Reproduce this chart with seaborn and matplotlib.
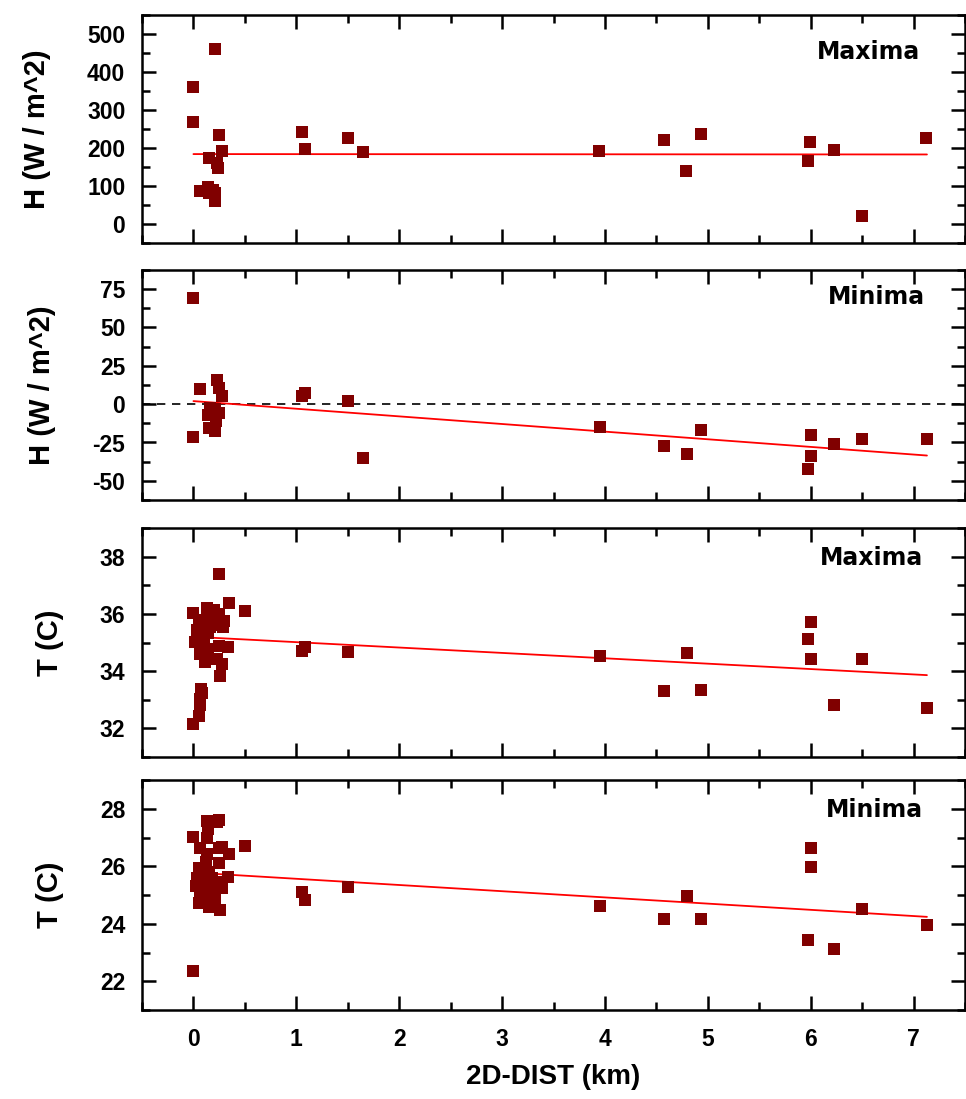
import numpy as np
import pandas as pd
import matplotlib
matplotlib.use("Agg")
import matplotlib.pyplot as plt
from matplotlib.ticker import MultipleLocator
import seaborn as sns

# --- data ---
hmax_x = [0.0, 0.0, 0.21, 0.25, 0.28, 0.15, 0.23, 0.24, 0.065, 0.14, 0.155, 0.21, 0.21, 0.19,
          1.06, 1.085, 1.5, 1.646, 3.94, 4.57, 4.79, 4.93, 5.99, 5.97, 6.23, 6.50, 7.12]
hmax_y = [361, 268, 460, 235, 193, 175, 160, 147, 87, 98, 82, 82, 61, 90,
          242, 197, 227, 190, 193, 221, 140, 238, 215, 166, 194, 22, 227]

hmin_x = [0.0, 0.065, 0.23, 0.25, 0.28, 0.16, 0.21, 0.245, 0.14, 0.22, 0.15, 0.21, 0.0,
          1.06, 1.085, 1.5, 1.646, 3.95, 4.57, 4.8, 4.93, 6.0, 6.0, 5.97, 6.23, 6.5, 7.13]
hmin_y = [69, 10, 15.8, 10.3, 5.5, -2.8, -3.3, -5.5, -7.2, -11, -15.6, -17.5, -21.7,
          5.3, 7.2, 2.2, -34.9, -15.1, -27.2, -32.4, -17.1, -20, -33.6, -42.5, -25.9, -22.8, -22.8]

tmax_x = [0.0, 0.05, 0.06, 0.06, 0.08, 0.075, 0.26, 0.28, 0.11, 0.23, 0.065, 0.14, 0.13, 0.25,
          0.34, 0.02, 0.08, 0.09, 0.14, 0.03, 0.16, 0.29, 0.05, 0.21, 0.30, 0.11, 0.25, 0.20,
          0.13, 0.0, 0.50, 0.35, 0.25, 0.18, 0.22, 0.10,
          1.06, 1.085, 1.5, 3.95, 4.57, 4.8, 4.93, 6.0, 5.97, 6.0, 6.23, 6.5, 7.13]
tmax_y = [32.16, 32.42, 32.81, 33.04, 33.22, 33.36, 33.84, 34.25, 34.33, 34.41, 34.60, 34.59,
          34.78, 34.88, 34.84, 35.03, 35.14, 35.33, 35.33, 35.43, 35.55, 35.54, 35.67, 35.62,
          35.74, 35.80, 36.00, 36.13, 36.20, 36.02, 36.09, 36.39, 37.39, 35.95, 35.85, 35.1,
          34.71, 34.85, 34.67, 34.53, 33.32, 34.62, 33.34, 35.72, 35.12, 34.43, 32.82, 34.43, 32.71]

tmin_x = [0.0, 0.0, 0.13, 0.25, 0.23, 0.14, 0.13, 0.5, 0.28, 0.25, 0.065, 0.35, 0.13, 0.25,
          0.12, 0.05, 0.10, 0.34, 0.025, 0.28, 0.13, 0.21, 0.05, 0.06, 0.21, 0.155, 0.255,
          0.03, 0.08, 0.15, 0.18, 0.20, 0.10, 0.27, 0.15, 0.06,
          1.06, 1.085, 1.5, 3.95, 4.57, 4.8, 4.93, 6.0, 6.0, 5.97, 6.23, 6.5, 7.13]
tmin_y = [22.34, 27.01, 27.59, 27.62, 27.55, 27.30, 26.98, 26.72, 26.67, 26.65, 26.63, 26.41,
          26.42, 26.13, 26.16, 25.93, 25.80, 25.63, 25.32, 25.25, 25.17, 25.23, 24.71, 24.91,
          24.87, 24.57, 24.47, 25.60, 25.50, 25.40, 25.60, 25.05, 25.00, 25.45, 25.80, 25.45,
          25.09, 24.81, 25.29, 24.62, 24.15, 24.96, 24.15, 26.63, 25.99, 23.43, 23.12, 24.53, 23.94]

# fitted lines (end points)
fit_x = [0.0, 7.13]
hmax_fit = [184, 183]
hmin_fit = [2.0, -33.5]
tmax_fit = [35.2, 33.86]
tmin_fit = [25.78, 24.24]

panel_labels = ["Maxima", "Minima", "Maxima", "Minima"]
y_labels = ["H (W / m^2)", "H (W / m^2)", "T (C)", "T (C)"]
x_label = "2D-DIST (km)"

sns.set_style("ticks")
plt.rcParams["font.family"] = ["Liberation Sans", "DejaVu Sans"]
plt.rcParams["font.weight"] = "bold"
for k in ["text.color", "axes.labelcolor", "xtick.color", "ytick.color", "axes.edgecolor"]:
    plt.rcParams[k] = "black"
plt.rcParams["xtick.direction"] = "in"
plt.rcParams["ytick.direction"] = "in"
plt.rcParams["axes.unicode_minus"] = False

fig = plt.figure(figsize=(9.66, 10.99), dpi=100)

# axes boxes in figure pixels: (top, bottom)
boxes = [(15, 243), (270, 500), (528, 757), (780, 1010)]
left, right = 142, 965
W, H = 966, 1099

panels = [
    (hmax_x, hmax_y, hmax_fit, (-50, 550), 100, 50),
    (hmin_x, hmin_y, hmin_fit, (-62.5, 87.5), 25, 12.5),
    (tmax_x, tmax_y, tmax_fit, (31, 39), 2, 1),
    (tmin_x, tmin_y, tmin_fit, (21, 29), 2, 1),
]
label_pos = [(0.945, 0.838), (0.951, 0.883), (0.949, 0.87), (0.949, 0.87)]

for i, ((xs, ys, fit, ylim, major, minor), (top, bot)) in enumerate(zip(panels, boxes)):
    ax = fig.add_axes([left / W, 1 - bot / H, (right - left) / W, (bot - top) / H])
    df = pd.DataFrame({"x": xs, "y": ys})
    sns.scatterplot(data=df, x="x", y="y", marker="s", s=66, color="#800000",
                    linewidth=0, ax=ax, zorder=3)
    sns.lineplot(x=fit_x, y=fit, color="red", linewidth=1.3, ax=ax, zorder=2)
    if i == 1:
        ax.axhline(0, color="black", linestyle=(0, (5, 4)), linewidth=1.2, zorder=1)

    ax.set_xlim(-0.5, 7.5)
    ax.set_ylim(*ylim)
    ax.xaxis.set_major_locator(MultipleLocator(1))
    ax.xaxis.set_minor_locator(MultipleLocator(0.5))
    ax.yaxis.set_major_locator(MultipleLocator(major))
    ax.yaxis.set_minor_locator(MultipleLocator(minor))
    if i == 1:
        ax.set_yticks([-50, -25, 0, 25, 50, 75])
    ax.tick_params(which="both", direction="in", top=True, right=True, width=1.8)
    ax.tick_params(which="major", length=10)
    ax.tick_params(which="minor", length=5.5)
    ax.tick_params(axis="y", labelsize=16.5, pad=12)
    for s in ax.spines.values():
        s.set_linewidth(1.8)

    ax.set_ylabel(y_labels[i], fontsize=21, fontweight="bold", labelpad=26)
    ax.text(label_pos[i][0], label_pos[i][1], panel_labels[i], transform=ax.transAxes,
            ha="right", va="center", fontsize=17, fontweight="bold", family="DejaVu Sans")
    if i < 3:
        ax.set_xlabel("")
        ax.tick_params(axis="x", labelbottom=False)
    else:
        ax.tick_params(axis="x", labelsize=16.5, pad=13)
        ax.set_xlabel(x_label, fontsize=20, fontweight="bold", labelpad=9)

fig.savefig("out.png", dpi=100)
